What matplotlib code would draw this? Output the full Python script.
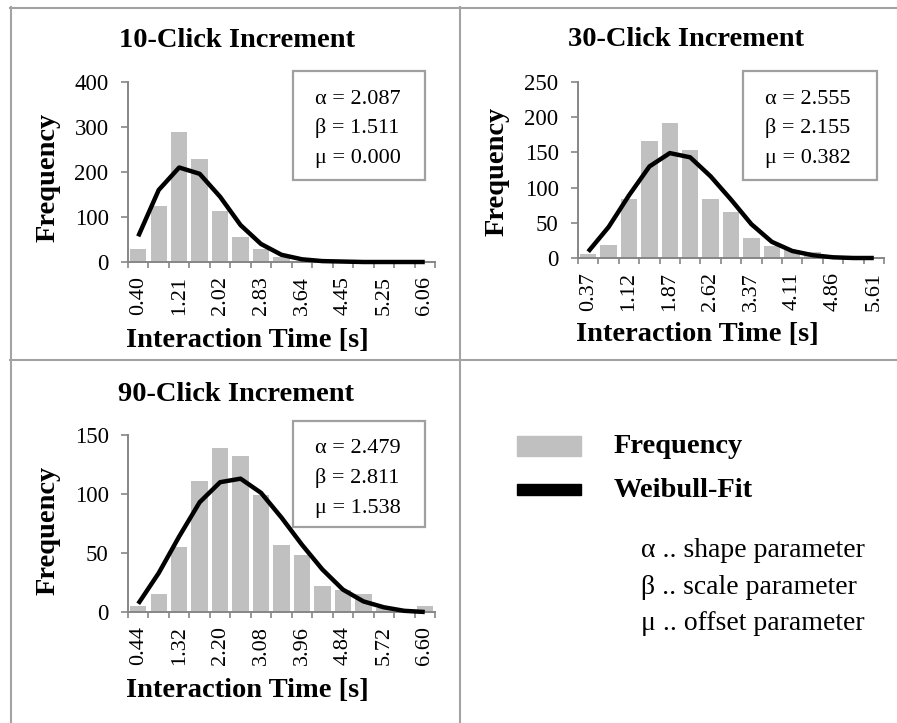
import matplotlib
matplotlib.use("Agg")
import matplotlib.pyplot as plt
from matplotlib.patches import Rectangle
from matplotlib.lines import Line2D

# ------------------------------------
# DATA
# ------------------------------------
titles = ["10-Click Increment", "30-Click Increment", "90-Click Increment"]

tick_labels_10 = ["0.40", "1.21", "2.02", "2.83", "3.64", "4.45", "5.25", "6.06"]
freq_10 = [28, 125, 290, 230, 113, 56, 28, 12, 3, 0, 0, 0, 0, 0, 0]
fit_10 = [57, 160, 210, 196, 145, 82, 40, 16, 6, 2, 1, 0, 0, 0, 0]
params_10 = ["2.087", "1.511", "0.000"]

tick_labels_30 = ["0.37", "1.12", "1.87", "2.62", "3.37", "4.11", "4.86", "5.61"]
freq_30 = [5, 18, 84, 166, 192, 154, 84, 66, 29, 17, 11, 9, 1, 0, 0]
fit_30 = [9, 44, 89, 130, 149, 143, 116, 83, 48, 23, 10, 4, 1, 0, 0]
params_30 = ["2.555", "2.155", "0.382"]

tick_labels_90 = ["0.44", "1.32", "2.20", "3.08", "3.96", "4.84", "5.72", "6.60"]
freq_90 = [5, 15, 55, 111, 139, 132, 99, 57, 48, 22, 19, 15, 3, 1, 5]
fit_90 = [7, 33, 64, 93, 110, 113, 101, 80, 57, 36, 19, 9, 4, 1, 0]
params_90 = ["2.479", "2.811", "1.538"]

y_max = [400, 250, 150]
y_step = [100, 50, 50]

param_symbols = ["α", "β", "μ"]
param_names = ["shape parameter", "scale parameter", "offset parameter"]

# ------------------------------------
# CONFIG
# ------------------------------------
W, H = 897, 723
BAR_COLOR = "#c0c0c0"
AXIS_COLOR = "#868686"
BORDER_COLOR = "#a3a3a3"
FONT = "Liberation Serif"

plt.rcParams["font.family"] = [FONT, "DejaVu Serif"]


def fx(x):
    return x / W


def fy(y):
    return 1 - y / H


def rect(x0, y0, x1, y1):
    return [fx(x0), fy(y1), (x1 - x0) / W, (y1 - y0) / H]


def draw_panel(fig, box, freq, fit, tick_labels, ymax, ystep):
    ax = fig.add_axes(rect(*box))
    xs = list(range(len(freq)))
    ax.bar(xs, freq, width=0.8, color=BAR_COLOR, zorder=1)
    ax.plot(xs, fit, color="black", lw=3.2, solid_joinstyle="round",
            solid_capstyle="butt", zorder=3, clip_on=False)

    ax.set_xlim(-0.5, len(freq) - 0.5)
    ax.set_ylim(0, ymax)
    ax.set_yticks(range(0, ymax + 1, ystep))
    ax.tick_params(axis="y", labelsize=16.5, length=5, width=1.2,
                   color=AXIS_COLOR, pad=9)

    # major: labels on every other category, minor: tick marks between bars
    ax.set_xticks(xs[::2])
    ax.set_xticklabels(tick_labels, rotation=90)
    ax.tick_params(axis="x", which="major", length=0, labelsize=16, pad=10)
    ax.set_xticks([x - 0.5 for x in xs] + [xs[-1] + 0.5], minor=True)
    ax.tick_params(axis="x", which="minor", length=4, width=1.2,
                   color=AXIS_COLOR)

    for side in ["top", "right"]:
        ax.spines[side].set_visible(False)
    for side in ["left", "bottom"]:
        ax.spines[side].set_color(AXIS_COLOR)
        ax.spines[side].set_linewidth(1.4)
    return ax


def draw_param_box(fig, ax, box, text_x, baselines, values):
    x0, y0, x1, y1 = box
    ax.add_patch(Rectangle((fx(x0), fy(y1)), (x1 - x0) / W, (y1 - y0) / H,
                           transform=fig.transFigure, facecolor="none",
                           edgecolor="#a0a0a0", lw=1.6, clip_on=False,
                           zorder=2))
    for sym, val, yb in zip(param_symbols, values, baselines):
        fig.text(fx(text_x), fy(yb), f"{sym} = {val}", fontsize=16,
                 ha="left", va="baseline")


def main():
    fig = plt.figure(figsize=(W / 100, H / 100), dpi=100)

    # cell borders
    for xa, ya in [([10, W], [7.5, 7.5]), ([10, W], [360, 360]),
                   ([10.5, 10.5], [7, H]), ([460, 460], [7, H])]:
        fig.add_artist(Line2D([fx(v) for v in xa], [fy(v) for v in ya],
                              color=BORDER_COLOR, lw=1.5))

    panels = [
        dict(box=(128, 82, 435, 262), freq=freq_10, fit=fit_10,
             ticks=tick_labels_10, params=params_10,
             title_xy=(237, 47), ylabel_xy=(48, 177), xlabel_xy=(247, 347),
             pbox=(293, 71, 425, 180), ptext_x=315, pbase=(104, 133, 163)),
        dict(box=(578, 82, 884, 258), freq=freq_30, fit=fit_30,
             ticks=tick_labels_30, params=params_30,
             title_xy=(686, 46), ylabel_xy=(497, 171), xlabel_xy=(697, 341),
             pbox=(743, 71, 877, 180), ptext_x=765, pbase=(104, 133, 163)),
        dict(box=(128, 435, 435, 612), freq=freq_90, fit=fit_90,
             ticks=tick_labels_90, params=params_90,
             title_xy=(236, 401), ylabel_xy=(48, 530), xlabel_xy=(247, 697),
             pbox=(293, 421, 425, 527), ptext_x=315, pbase=(453, 483, 513)),
    ]

    for i, p in enumerate(panels):
        ax = draw_panel(fig, p["box"], p["freq"], p["fit"], p["ticks"],
                        y_max[i], y_step[i])
        fig.text(fx(p["title_xy"][0]), fy(p["title_xy"][1]), titles[i],
                 fontsize=20.5, fontweight="bold", ha="center", va="baseline")
        fig.text(fx(p["ylabel_xy"][0]), fy(p["ylabel_xy"][1]), "Frequency",
                 fontsize=20.5, fontweight="bold", rotation=90,
                 ha="center", va="center")
        fig.text(fx(p["xlabel_xy"][0]), fy(p["xlabel_xy"][1]),
                 "Interaction Time [s]", fontsize=20.5, fontweight="bold",
                 ha="center", va="baseline")
        draw_param_box(fig, ax, p["pbox"], p["ptext_x"], p["pbase"],
                       p["params"])

    # legend cell
    fig.add_artist(Rectangle((fx(517), fy(456)), 64 / W, 20 / H,
                             transform=fig.transFigure, color=BAR_COLOR))
    fig.add_artist(Rectangle((fx(517), fy(495)), 64 / W, 11 / H,
                             transform=fig.transFigure, color="black"))
    fig.text(fx(614), fy(453), "Frequency", fontsize=20.5, fontweight="bold",
             ha="left", va="baseline")
    fig.text(fx(614), fy(497), "Weibull-Fit", fontsize=20.5, fontweight="bold",
             ha="left", va="baseline")
    for j, (sym, name) in enumerate(zip(param_symbols, param_names)):
        fig.text(fx(641), fy(557 + 36.5 * j), f"{sym} .. {name}",
                 fontsize=20, ha="left", va="baseline")

    fig.savefig("out.png", dpi=100)
    plt.close(fig)


if __name__ == "__main__":
    main()
